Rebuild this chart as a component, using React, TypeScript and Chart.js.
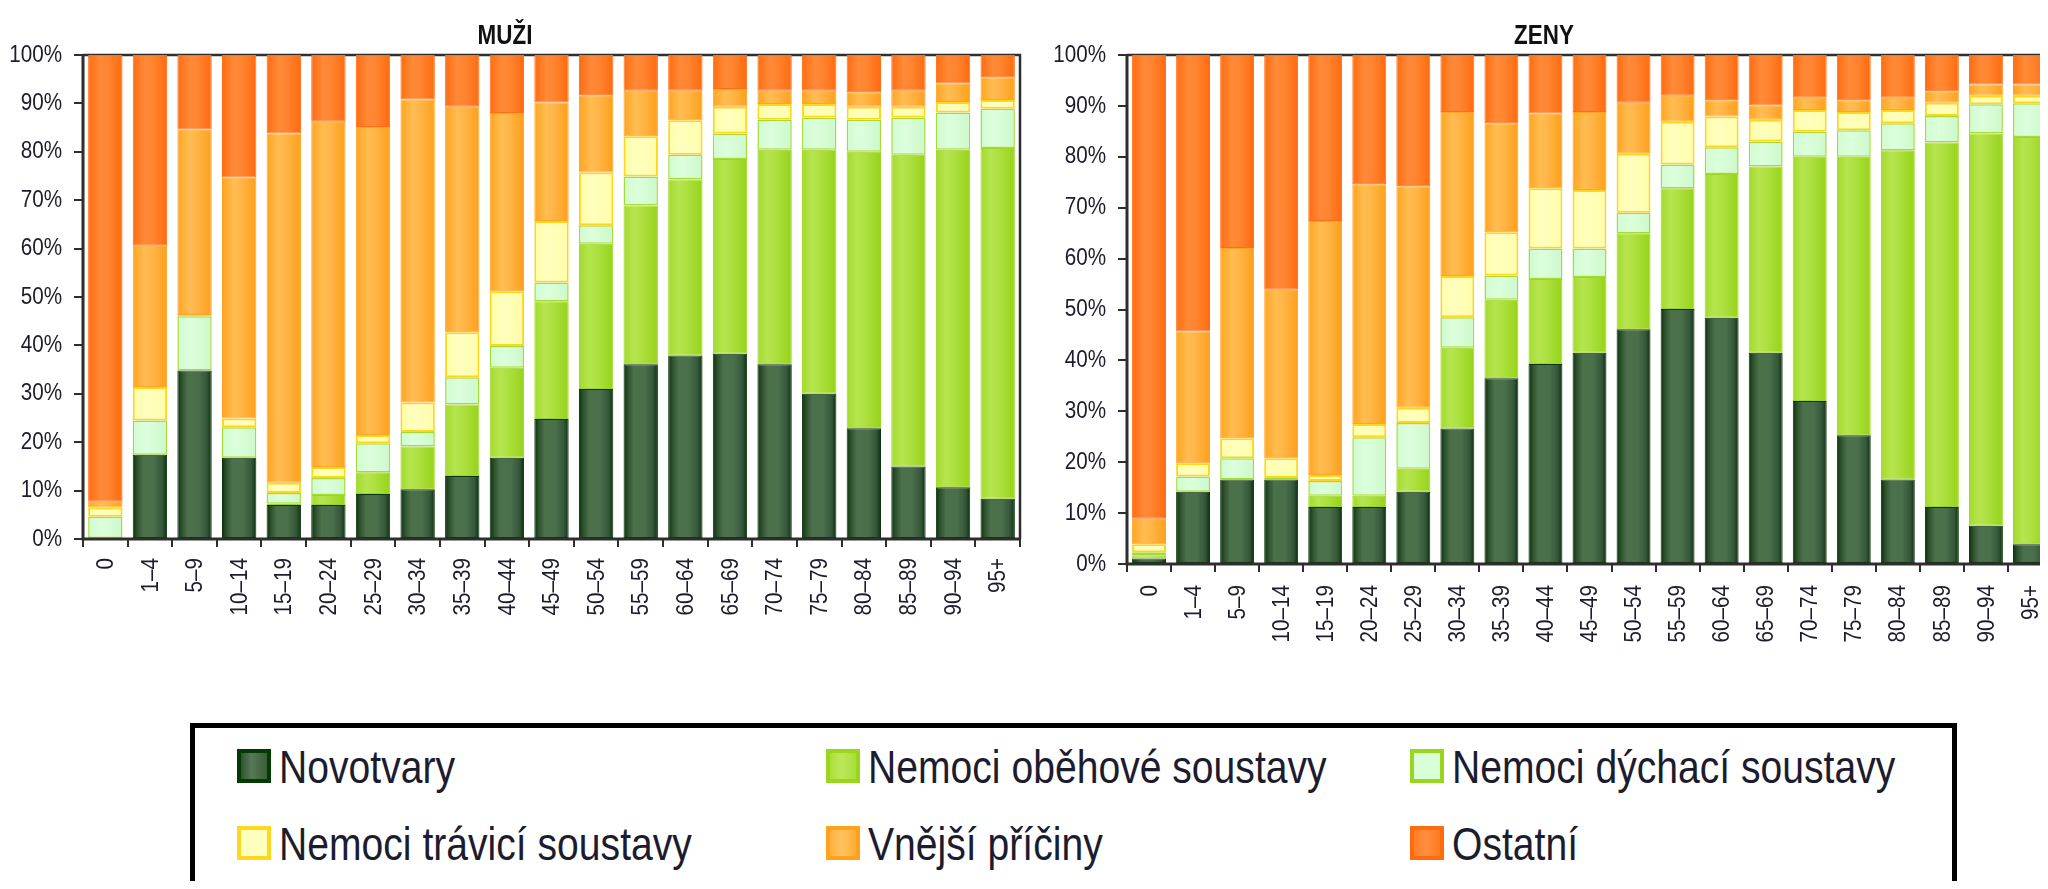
import { useEffect, useRef } from 'react';
import { Chart, registerables } from 'chart.js';

Chart.register(...registerables);

// ---------- data ----------
const AGE_GROUPS = ['0', '1–4', '5–9', '10–14', '15–19', '20–24', '25–29', '30–34', '35–39', '40–44', '45–49', '50–54', '55–59', '60–64', '65–69', '70–74', '75–79', '80–84', '85–89', '90–94', '95+'];
const SERIES_NAMES = ['Novotvary', 'Nemoci oběhové soustavy', 'Nemoci dýchací soustavy', 'Nemoci trávicí soustavy', 'Vnější příčiny', 'Ostatní'];
const PANEL_TITLES = ['MUŽI', 'ZENY'];

const MEN_NOVOTVARY = [0, 17.4, 34.8, 16.8, 7.0, 7.0, 9.3, 10.3, 13.0, 16.8, 24.8, 31.0, 36.1, 37.9, 38.3, 36.1, 30.0, 22.9, 15.0, 10.7, 8.3];
const MEN_OBEHOVE = [0, 0, 0, 0, 0.3, 2.1, 4.5, 8.8, 14.8, 18.6, 24.3, 30.0, 32.8, 36.4, 40.2, 44.3, 50.4, 57.1, 64.4, 69.7, 72.5];
const MEN_DYCHACI = [4.6, 7.1, 11.2, 6.3, 2.2, 3.5, 6.0, 3.0, 5.6, 4.5, 3.9, 3.8, 6.0, 5.1, 5.3, 6.2, 6.7, 6.6, 7.7, 7.7, 8.1];
const MEN_TRAVICI = [1.9, 6.9, 0.3, 1.8, 2.1, 2.3, 1.7, 6.1, 9.3, 11.3, 12.7, 10.9, 8.3, 7.1, 5.5, 3.3, 2.8, 2.7, 2.2, 2.2, 1.8];
const MEN_VNEJSI = [1.2, 29.2, 38.3, 49.8, 72.2, 71.3, 63.6, 62.6, 46.6, 36.8, 24.5, 16.0, 9.4, 6.1, 3.7, 2.7, 2.7, 3.0, 3.3, 3.8, 4.7];
const MEN_OSTATNI = [92.3, 39.4, 15.4, 25.3, 16.2, 13.8, 14.9, 9.2, 10.7, 12.0, 9.8, 8.3, 7.4, 7.4, 7.0, 7.4, 7.4, 7.7, 7.4, 5.9, 4.6];

const WOMEN_NOVOTVARY = [1.1, 14.2, 16.6, 16.6, 11.2, 11.2, 14.2, 26.6, 36.5, 39.3, 41.5, 46.1, 50.1, 48.4, 41.5, 32.0, 25.3, 16.6, 11.2, 7.5, 3.9];
const WOMEN_OBEHOVE = [0.6, 0, 0, 0, 2.2, 2.2, 4.5, 15.9, 15.4, 16.7, 14.9, 18.9, 23.7, 28.2, 36.6, 48.0, 54.7, 64.7, 71.6, 77.1, 80.0];
const WOMEN_DYCHACI = [0.6, 3.0, 4.2, 0.3, 2.9, 11.5, 9.0, 6.0, 4.8, 6.0, 5.6, 4.0, 4.7, 5.3, 4.9, 4.9, 5.2, 5.3, 5.2, 5.7, 6.6];
const WOMEN_TRAVICI = [1.6, 2.6, 3.9, 3.9, 1.2, 2.6, 3.0, 8.1, 8.5, 11.8, 11.5, 11.6, 8.4, 6.0, 4.3, 4.3, 3.6, 2.6, 2.6, 1.7, 1.5];
const WOMEN_VNEJSI = [5.0, 25.9, 37.4, 33.1, 49.9, 47.1, 43.5, 32.2, 21.4, 14.7, 15.3, 10.0, 5.1, 3.2, 2.8, 2.4, 2.3, 2.4, 2.3, 2.2, 2.2];
const WOMEN_OSTATNI = [91.1, 54.3, 37.9, 46.1, 32.6, 25.4, 25.8, 11.2, 13.4, 11.5, 11.2, 9.4, 8.0, 8.9, 9.9, 8.4, 8.9, 8.4, 7.1, 5.8, 5.8];

const Y_TICK_VALUES = [0, 10, 20, 30, 40, 50, 60, 70, 80, 90, 100];

// ---------- styles ----------
const FONT = "'Liberation Sans', Arial, sans-serif";
const TEXT_COLOR = '#1c1c2e';
const AXIS_COLOR = '#2e2e2e';
const BAR_PCT = 0.77;
const NARROW = 0.86; // horizontal squeeze to imitate a narrow typeface

type SeriesStyle = { stops: [number, string][]; border: string; borderWidth: number; swatchBorder: string; swatchFill: string };
const SERIES_STYLES: SeriesStyle[] = [
  { stops: [[0, '#0a300a'], [0.12, '#2c502c'], [0.3, '#4b714b'], [0.62, '#4a6f4a'], [0.86, '#34573a'], [1, '#0a300a']], border: '#0a330a', borderWidth: 1, swatchBorder: '#043a04', swatchFill: 'linear-gradient(to right,#2f532f,#557a55 40%,#3a5e3a)' },
  { stops: [[0, '#a3da2c'], [0.3, '#b6e54f'], [0.55, '#ace03e'], [1, '#97d31a']], border: '#9dd523', borderWidth: 1, swatchBorder: '#9ad61e', swatchFill: 'linear-gradient(to right,#aadf3a,#bde85a 45%,#a8de38)' },
  { stops: [[0, '#d0fbd0'], [0.4, '#dcffdc'], [1, '#cdf8cb']], border: '#a6da34', borderWidth: 1.5, swatchBorder: '#9ad61e', swatchFill: '#d9ffd9' },
  { stops: [[0, '#ffffa8'], [0.4, '#ffffbe'], [1, '#fffdaa']], border: '#ffd61c', borderWidth: 2, swatchBorder: '#ffd71e', swatchFill: '#ffffbe' },
  { stops: [[0, '#ffa41f'], [0.35, '#ffbd52'], [0.6, '#ffb444'], [1, '#ff9f1a']], border: '#ffa426', borderWidth: 1, swatchBorder: '#ffa21e', swatchFill: 'linear-gradient(to right,#ffb23e,#ffc25e 45%,#ffad34)' },
  { stops: [[0, '#ff6c10'], [0.35, '#ff8a38'], [0.6, '#ff8430'], [1, '#ff6a0e']], border: '#ff6e14', borderWidth: 1, swatchBorder: '#ff6c10', swatchFill: 'linear-gradient(to right,#ff7f28,#ff8f40 45%,#ff7a22)' },
];

const LEGEND_POSITIONS: [number, number][] = [[237, 749], [826, 749], [1410, 749], [237, 826], [826, 826], [1410, 826]];

function barFill(style: SeriesStyle) {
  return (c: any) => {
    const chart = c.chart;
    const xs = chart.scales && chart.scales.x;
    if (!xs || !chart.chartArea || c.dataIndex === undefined) return style.stops[2][1];
    const cx = xs.getPixelForValue(c.dataIndex);
    const half = ((xs.width / AGE_GROUPS.length) * BAR_PCT) / 2;
    const g = chart.ctx.createLinearGradient(cx - half, 0, cx + half, 0);
    style.stops.forEach(([o, col]) => g.addColorStop(o, col));
    return g;
  };
}

const framePlugin = {
  id: 'frame',
  beforeDatasetsDraw(chart: any) {
    const { ctx, chartArea: a } = chart;
    ctx.save();
    ctx.strokeStyle = AXIS_COLOR;
    ctx.lineWidth = 2.5;
    ctx.beginPath();
    ctx.moveTo(a.left, a.top);
    ctx.lineTo(a.right, a.top);
    ctx.lineTo(a.right, a.bottom);
    ctx.stroke();
    ctx.restore();
  },
  afterDatasetsDraw(chart: any) {
    const { ctx, chartArea: a } = chart;
    ctx.save();
    ctx.strokeStyle = AXIS_COLOR;
    ctx.lineWidth = 3;
    ctx.beginPath();
    ctx.moveTo(a.left, a.top - 1);
    ctx.lineTo(a.left, a.bottom);
    ctx.lineTo(a.right + 1, a.bottom);
    ctx.stroke();
    ctx.restore();
  },
};

// draws title and tick labels in a horizontally condensed style
const textPlugin = {
  id: 'narrowText',
  afterDraw(chart: any, _args: any, opts: any) {
    const { ctx, chartArea: a } = chart;
    const xs = chart.scales.x;
    const ys = chart.scales.y;
    ctx.save();
    ctx.fillStyle = TEXT_COLOR;

    // y tick labels
    ctx.font = `24px ${FONT}`;
    ctx.textAlign = 'right';
    ctx.textBaseline = 'middle';
    ys.ticks.forEach((t: any, i: number) => {
      const y = ys.getPixelForTick(i);
      ctx.save();
      ctx.translate(a.left - 21, y);
      ctx.scale(NARROW, 1);
      ctx.fillText(String(t.label), 0, 0);
      ctx.restore();
    });

    // x tick labels, rotated
    ctx.font = `24px ${FONT}`;
    xs.ticks.forEach((t: any, i: number) => {
      const x = xs.getPixelForTick(i);
      ctx.save();
      ctx.translate(x + 1, a.bottom + opts.xLabelGap);
      ctx.rotate(-Math.PI / 2);
      ctx.scale(NARROW, 1);
      ctx.textAlign = 'right';
      ctx.textBaseline = 'middle';
      ctx.fillText(String(t.label), 0, 0);
      ctx.restore();
    });

    // panel title
    ctx.fillStyle = '#111';
    ctx.font = `bold 27px ${FONT}`;
    ctx.textAlign = 'center';
    ctx.textBaseline = 'alphabetic';
    ctx.translate(opts.titleX, 44);
    ctx.scale(0.83, 1);
    ctx.fillText(opts.title, 0, 0);
    ctx.restore();
  },
};

type PanelProps = {
  title: string;
  series: number[][];
  left: number;
  width: number;
  height: number;
  yAxisWidth: number;
  plotBottom: number;
  padRight: number;
  titleX: number;
  xLabelGap: number;
};

function Panel({ title, series, left, width, height, yAxisWidth, plotBottom, padRight, titleX, xLabelGap }: PanelProps) {
  const ref = useRef<HTMLCanvasElement | null>(null);
  useEffect(() => {
    if (!ref.current) return;
    const chart = new Chart(ref.current, {
      type: 'bar',
      data: {
        labels: AGE_GROUPS,
        datasets: series.map((vals, i) => ({
          label: SERIES_NAMES[i],
          data: vals,
          backgroundColor: barFill(SERIES_STYLES[i]),
          borderColor: SERIES_STYLES[i].border,
          borderWidth: SERIES_STYLES[i].borderWidth,
          borderSkipped: false,
          barPercentage: BAR_PCT,
          categoryPercentage: 1,
        })),
      },
      options: {
        responsive: false,
        animation: false,
        devicePixelRatio: 1,
        layout: { padding: { top: 55, left: 0, right: padRight, bottom: 0 } },
        plugins: {
          legend: { display: false },
          tooltip: { enabled: false },
          title: { display: false },
          narrowText: { title, titleX, xLabelGap },
        } as any,
        scales: {
          x: {
            stacked: true,
            grid: { display: true, drawOnChartArea: false, drawTicks: true, tickLength: 8, color: AXIS_COLOR, lineWidth: 2, offset: true },
            border: { display: false },
            ticks: { display: false, autoSkip: false, minRotation: 90, maxRotation: 90 },
            afterFit: (s: any) => { s.height = height - plotBottom; },
          },
          y: {
            stacked: true,
            min: 0,
            max: 100,
            afterBuildTicks: (s: any) => { s.ticks = Y_TICK_VALUES.map((v) => ({ value: v })); },
            grid: { display: true, drawOnChartArea: false, drawTicks: true, tickLength: 9, color: AXIS_COLOR, lineWidth: 2 },
            border: { display: false },
            ticks: { display: false, callback: (v: any) => `${v}%` },
            afterFit: (s: any) => { s.width = yAxisWidth; },
          },
        },
      },
      plugins: [framePlugin, textPlugin],
    });
    return () => chart.destroy();
  }, []);
  return <canvas ref={ref} width={width} height={height} style={{ position: 'absolute', left, top: 0, width, height }} />;
}

export default function App() {
  const men = [MEN_NOVOTVARY, MEN_OBEHOVE, MEN_DYCHACI, MEN_TRAVICI, MEN_VNEJSI, MEN_OSTATNI];
  const women = [WOMEN_NOVOTVARY, WOMEN_OBEHOVE, WOMEN_DYCHACI, WOMEN_TRAVICI, WOMEN_VNEJSI, WOMEN_OSTATNI];
  return (
    <div style={{ position: 'relative', width: 2048, height: 889, margin: -8, overflow: 'hidden', background: '#fff', fontFamily: FONT }}>
      <Panel title={PANEL_TITLES[0]} series={men} left={0} width={1024} height={640} yAxisWidth={83} plotBottom={539} padRight={4} titleX={505} xLabelGap={19} />
      <Panel title={PANEL_TITLES[1]} series={women} left={1024} width={1052} height={690} yAxisWidth={103} plotBottom={564} padRight={24} titleX={520} xLabelGap={21} />
      <div style={{ position: 'absolute', left: 190, top: 723, width: 1767, height: 220, border: '5px solid #000', boxSizing: 'border-box' }} />
      {SERIES_NAMES.map((name, i) => {
        const [x, y] = LEGEND_POSITIONS[i];
        const st = SERIES_STYLES[i];
        return (
          <div key={name}>
            <div style={{ position: 'absolute', left: x, top: y, width: 34, height: 34, boxSizing: 'border-box', border: `4px solid ${st.swatchBorder}`, background: st.swatchFill }} />
            <div style={{ position: 'absolute', left: x + 42, top: y - 5, fontSize: 46, lineHeight: '46px', color: TEXT_COLOR, whiteSpace: 'nowrap', fontFamily: FONT, transform: 'scaleX(0.85)', transformOrigin: 'left center' }}>{name}</div>
          </div>
        );
      })}
    </div>
  );
}
